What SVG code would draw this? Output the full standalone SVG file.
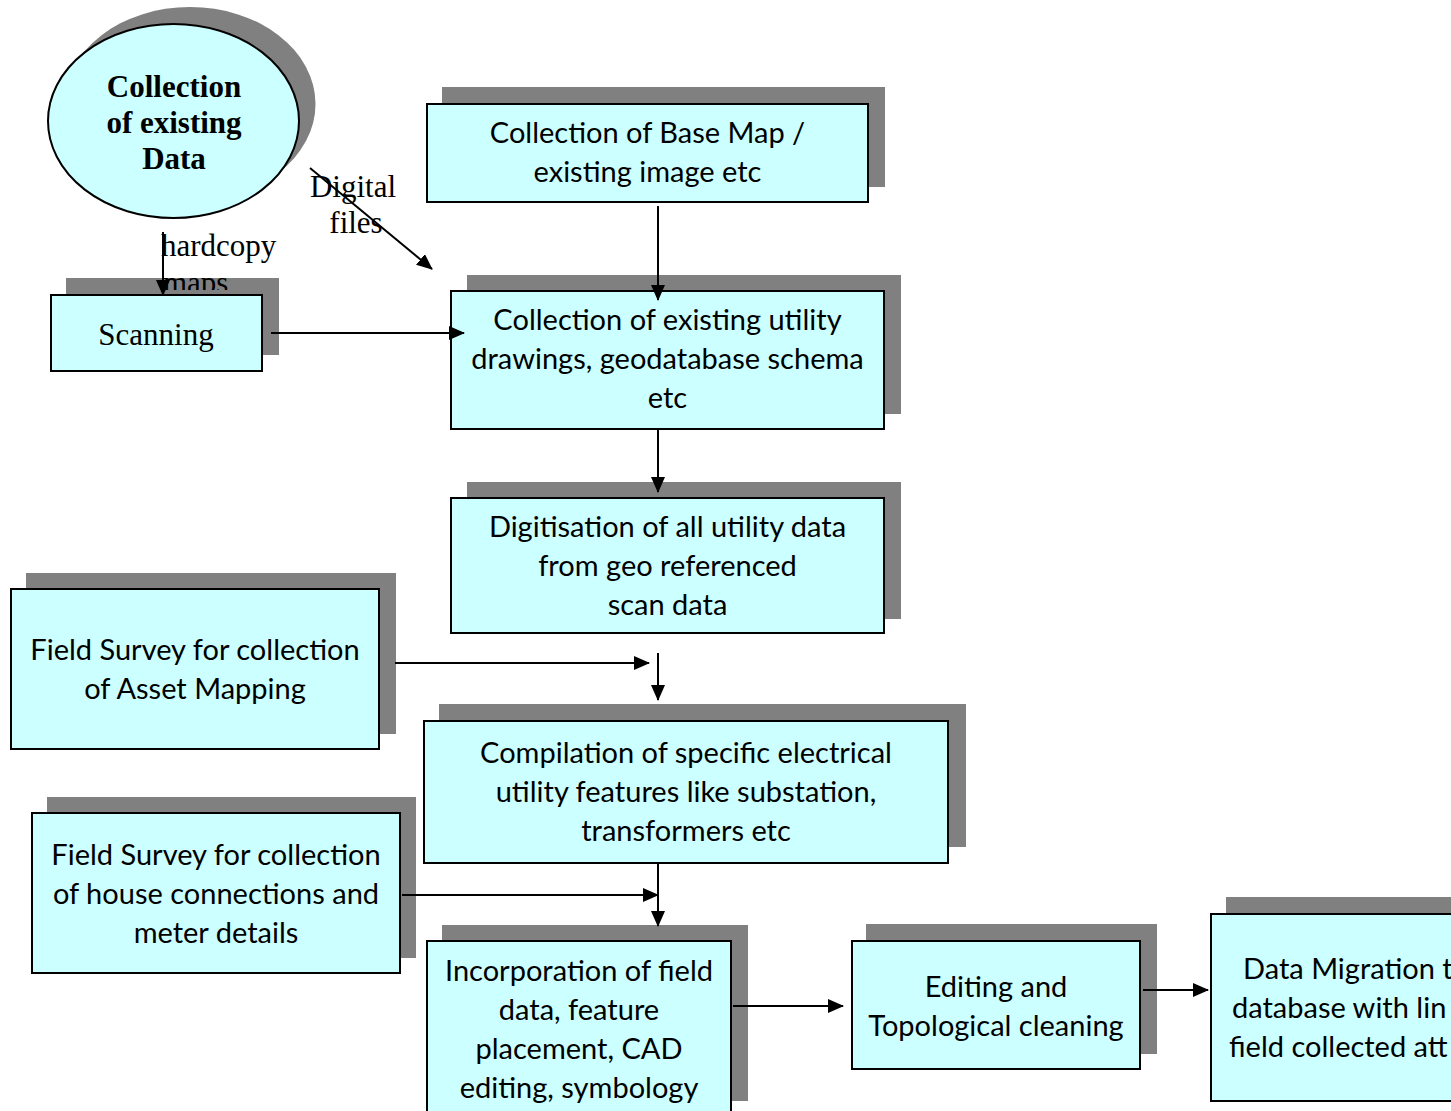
<svg xmlns="http://www.w3.org/2000/svg" width="1451" height="1111" viewBox="0 0 1451 1111">
<style>
.sh{fill:#808080;stroke:none}
.bx{fill:#CCFFFF;stroke:#000;stroke-width:2}
.t{font-family:Lato,"Open Sans",sans-serif;font-size:29px;fill:#000;text-anchor:middle}
.tl{font-family:Lato,"Open Sans",sans-serif;font-size:29px;fill:#000}
.tm{font-family:"Liberation Serif","Times New Roman",serif;font-size:31px;fill:#000}
.ln{stroke:#000;stroke-width:2;fill:none;marker-end:url(#ah)}
</style>
<defs>
<marker id="ah" markerUnits="userSpaceOnUse" markerWidth="16" markerHeight="14" refX="15" refY="7" orient="auto">
<path d="M0,0 L16,7 L0,14 Z" fill="#000"/>
</marker>
<clipPath id="clipmaps"><rect x="140" y="220" width="160" height="70"/></clipPath>
</defs>
<rect width="1451" height="1111" fill="#fff"/>

<g id="n-collection">
<ellipse class="sh" cx="190" cy="104" rx="125.5" ry="97"/>
<ellipse class="bx" cx="173.5" cy="121" rx="125.5" ry="97"/>
<text class="tm" x="174" y="97" text-anchor="middle" font-weight="bold">Collection</text>
<text class="tm" x="174" y="133" text-anchor="middle" font-weight="bold">of existing</text>
<text class="tm" x="174" y="169" text-anchor="middle" font-weight="bold">Data</text>
</g>

<g id="n-scanning">
<rect class="sh" x="66" y="278" width="213" height="77"/>
<g id="label-hardcopy" clip-path="url(#clipmaps)">
<text class="tm" x="161" y="256">hardcopy</text>
<text class="tm" x="163" y="293">maps</text>
</g>
<rect class="bx" x="51" y="295" width="211" height="76"/>
<text class="tm" x="156" y="345" text-anchor="middle">Scanning</text>
</g>

<g id="n-basemap">
<rect class="sh" x="442" y="87" width="443" height="100"/>
<rect class="bx" x="427" y="104" width="441" height="98"/>
<text class="t" x="647.5" y="143">Collection of Base Map /</text>
<text class="t" x="647.5" y="182">existing image etc</text>
</g>

<g id="n-utility">
<rect class="sh" x="467" y="275" width="434" height="139"/>
<rect class="bx" x="451" y="291" width="433" height="138"/>
<text class="t" x="667.5" y="330">Collection of existing utility</text>
<text class="t" x="667.5" y="369">drawings, geodatabase schema</text>
<text class="t" x="667.5" y="408">etc</text>
</g>

<g id="n-digitisation">
<rect class="sh" x="467" y="482" width="434" height="137"/>
<rect class="bx" x="451" y="498" width="433" height="135"/>
<text class="t" x="667.5" y="537">Digitisation of all utility data</text>
<text class="t" x="667.5" y="576">from geo referenced</text>
<text class="t" x="667.5" y="615">scan data</text>
</g>

<g id="n-field-asset">
<rect class="sh" x="26" y="573" width="370" height="161"/>
<rect class="bx" x="11" y="589" width="368" height="160"/>
<text class="t" x="195" y="660">Field Survey for collection</text>
<text class="t" x="195" y="699">of Asset Mapping</text>
</g>

<g id="n-compilation">
<rect class="sh" x="439" y="704" width="527" height="143"/>
<rect class="bx" x="424" y="721" width="524" height="142"/>
<text class="t" x="686" y="763">Compilation of specific electrical</text>
<text class="t" x="686" y="802">utility features like substation,</text>
<text class="t" x="686" y="841">transformers etc</text>
</g>

<g id="n-field-house">
<rect class="sh" x="47" y="797" width="369" height="161"/>
<rect class="bx" x="32" y="813" width="368" height="160"/>
<text class="t" x="216" y="865">Field Survey for collection</text>
<text class="t" x="216" y="904">of house connections and</text>
<text class="t" x="216" y="943">meter details</text>
</g>

<g id="n-incorporation">
<rect class="sh" x="442" y="925" width="306" height="176"/>
<rect class="bx" x="427" y="941" width="304" height="180"/>
<text class="t" x="579" y="981">Incorporation of field</text>
<text class="t" x="579" y="1020">data, feature</text>
<text class="t" x="579" y="1059">placement, CAD</text>
<text class="t" x="579" y="1098">editing, symbology</text>
</g>

<g id="n-editing">
<rect class="sh" x="866" y="924" width="291" height="130"/>
<rect class="bx" x="852" y="941" width="288" height="128"/>
<text class="t" x="996" y="997">Editing and</text>
<text class="t" x="996" y="1036">Topological cleaning</text>
</g>

<g id="n-migration">
<rect class="sh" x="1226" y="897" width="240" height="188"/>
<rect class="bx" x="1211" y="914" width="250" height="187"/>
<text class="tl" x="1243" y="979">Data Migration t</text>
<text class="tl" x="1232" y="1018">database with lin</text>
<text class="tl" x="1229" y="1057">field collected att</text>
</g>

<g id="connectors">
<line class="ln" x1="163" y1="232" x2="163" y2="295"/>
<line class="ln" x1="310" y1="168" x2="432" y2="269"/>
<line class="ln" x1="271" y1="333" x2="464" y2="333"/>
<line class="ln" x1="658" y1="206" x2="658" y2="300"/>
<line class="ln" x1="658" y1="430" x2="658" y2="492"/>
<line class="ln" x1="395" y1="663" x2="649" y2="663"/>
<line class="ln" x1="658" y1="653" x2="658" y2="700"/>
<line class="ln" x1="658" y1="863" x2="658" y2="926"/>
<line class="ln" x1="402" y1="895" x2="658" y2="895"/>
<line class="ln" x1="733" y1="1006" x2="843" y2="1006"/>
<line class="ln" x1="1143" y1="990" x2="1208" y2="990"/>
</g>

<g id="label-digital">
<text class="tm" x="353" y="197" text-anchor="middle">Digital</text>
<text class="tm" x="356" y="233" text-anchor="middle">files</text>
</g>
</svg>
